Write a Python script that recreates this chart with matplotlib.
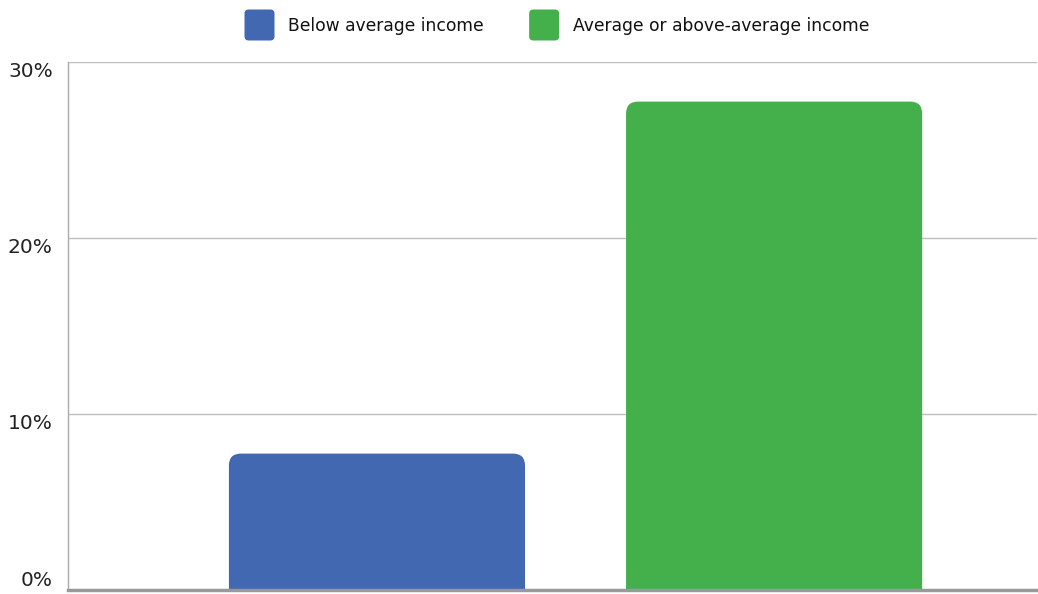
import matplotlib
matplotlib.use("Agg")
import matplotlib.pyplot as plt
from matplotlib.patches import FancyBboxPatch, Patch
from matplotlib.legend_handler import HandlerPatch

categories = ["Below average income", "Average or above-average income"]
values = [7.75, 27.75]
colors = ["#4168B0", "#44B04C"]
yticks = [0, 10, 20, 30]
ytick_labels = ["0%", "10%", "20%", "30%"]

W, H, DPI = 1038, 594, 100
fig = plt.figure(figsize=(W / DPI, H / DPI), dpi=DPI)
ax = fig.add_axes([68 / W, 1 - 590 / H, (1037 - 68) / W, (590 - 62) / H])

xpos = [0, 1]
bar_w = 0.7456
xlim = (-0.778, 1.662)
ylim = (0, 30)
ax.set_xlim(*xlim)
ax.set_ylim(*ylim)

bars = ax.bar(xpos, values, width=bar_w, color=colors)

# rounded top corners
ax_w_px = (1037 - 68)
ax_h_px = (590 - 62)
ppx = ax_w_px / (xlim[1] - xlim[0])
ppy = ax_h_px / (ylim[1] - ylim[0])
r_px = 12
for rect in bars:
    x0 = rect.get_x()
    w = rect.get_width()
    h = rect.get_height()
    fc = rect.get_facecolor()
    rect.remove()
    p = FancyBboxPatch((x0, -3), w, h + 3,
                       boxstyle=f"round,pad=0,rounding_size={r_px / ppx}",
                       mutation_aspect=ppx / ppy,
                       fc=fc, ec="none", zorder=2, clip_on=True)
    ax.add_patch(p)

ax.set_yticks(yticks)
ax.set_yticklabels(ytick_labels, fontsize=14.5, color="#222222")
for i, lab in enumerate(ax.get_yticklabels()):
    lab.set_va("bottom" if i == 0 else "top")
ax.tick_params(axis="y", length=0, pad=11)
ax.set_xticks([])
ax.yaxis.grid(True, color="#bdbdbd", linewidth=1)
ax.set_axisbelow(True)
for s in ["top", "right"]:
    ax.spines[s].set_visible(False)
ax.spines["left"].set_color("#aaaaaa")
ax.spines["left"].set_linewidth(1)
ax.spines["bottom"].set_color("#999999")
ax.spines["bottom"].set_linewidth(2.5)
ax.spines["bottom"].set_zorder(5)


class RoundHandler(HandlerPatch):
    def create_artists(self, legend, orig_handle, xdescent, ydescent,
                       width, height, fontsize, trans):
        bh = width * 31 / 30
        y0 = -ydescent + height / 2 - bh / 2
        p = FancyBboxPatch((-xdescent, y0), width, bh,
                           boxstyle="round,pad=0,rounding_size=3",
                           fc=orig_handle.get_facecolor(), ec="none",
                           transform=trans)
        return [p]


handles = [Patch(facecolor=c) for c in colors]
fs = 12.3
fpx = fs * DPI / 72
leg = fig.legend(handles, categories, loc="center", ncol=2,
                 bbox_to_anchor=(557 / W, 1 - 25.5 / H),
                 frameon=False,
                 handlelength=30 / fpx, handleheight=1.2,
                 handletextpad=14 / fpx, columnspacing=45 / fpx,
                 handler_map={Patch: RoundHandler()},
                 prop={"family": ["DejaVu Sans"], "size": fs})
for t in leg.get_texts():
    t.set_color("#111111")

fig.savefig("out.png", dpi=DPI)
